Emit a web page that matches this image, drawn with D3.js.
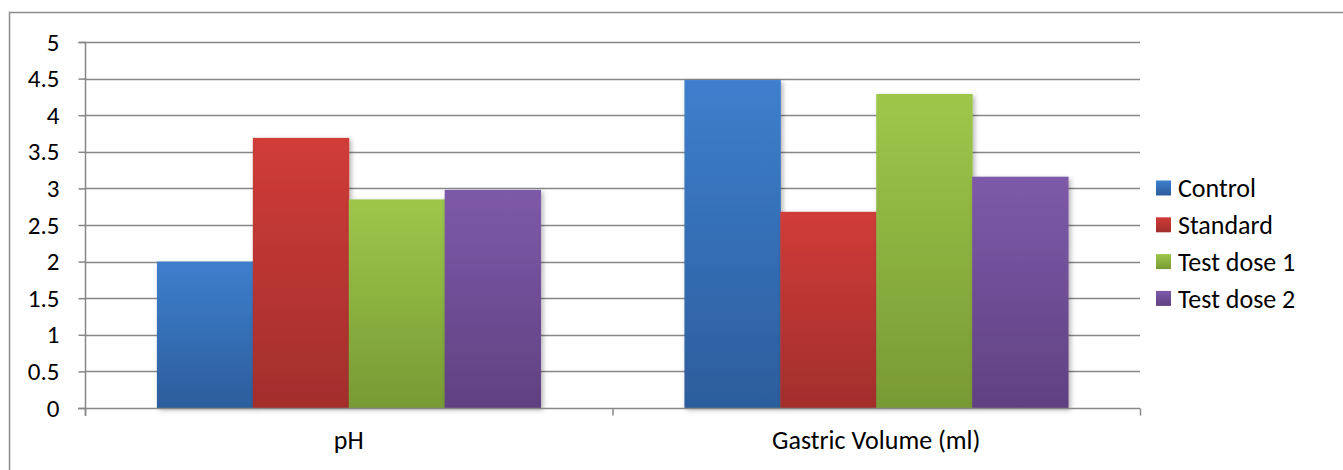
<!DOCTYPE html>
<html><head><meta charset="utf-8">
<script src="https://cdn.jsdelivr.net/npm/d3@7"></script>
<style>html,body{margin:0;padding:0;background:#fff;}svg{display:block;}</style>
</head><body>
<svg id="c" width="1343" height="470"></svg>
<script>
const categories = ["pH", "Gastric Volume (ml)"];
const seriesNames = ["Control", "Standard", "Test dose 1", "Test dose 2"];
const control = [2.0, 4.48];
const standard = [3.69, 2.68];
const testDose1 = [2.85, 4.29];
const testDose2 = [2.98, 3.16];
const yTicks = [0, 0.5, 1, 1.5, 2, 2.5, 3, 3.5, 4, 4.5, 5];
const seriesValues = [control, standard, testDose1, testDose2];
const colorsTop = ["#3d7fcd", "#d03c38", "#9ec74a", "#7d5aa9"];
const colorsBot = ["#2c5d9c", "#a22e2c", "#789a34", "#604181"];

const svg = d3.select("#c");
const font = "Carlito, Calibri, 'Open Sans', sans-serif";
const m = {left: 85, right: 1140, top: 42, bottom: 408};

// outer border
svg.append("path").attr("d", "M9.5,475 L9.5,12.5 L1350,12.5")
  .attr("fill", "none").attr("stroke", "#8c8c8c").attr("stroke-width", 1.5);

const defs = svg.append("defs");
colorsTop.forEach((c, i) => {
  const g = defs.append("linearGradient").attr("id", "g" + i)
    .attr("x1", 0).attr("y1", 0).attr("x2", 0).attr("y2", 1);
  g.append("stop").attr("offset", "0%").attr("stop-color", c);
  g.append("stop").attr("offset", "100%").attr("stop-color", colorsBot[i]);
});
const f = defs.append("filter").attr("id", "sh").attr("x", "-10%").attr("y", "-10%").attr("width", "130%").attr("height", "130%");
f.append("feDropShadow").attr("dx", 2).attr("dy", 2).attr("stdDeviation", 2.5).attr("flood-color", "#000").attr("flood-opacity", 0.3);

const y = d3.scaleLinear().domain([0, 5]).range([m.bottom, m.top]);
const x0 = d3.scaleBand().domain(categories).range([m.left, m.right]).paddingInner(0).paddingOuter(0);
const x1 = d3.scaleBand().domain(seriesNames).range([0, x0.bandwidth()]).paddingOuter(0.75).paddingInner(0);

// gridlines
svg.append("g").selectAll("line").data(yTicks.filter(d => d > 0)).join("line")
  .attr("x1", m.left).attr("x2", m.right)
  .attr("y1", d => Math.round(y(d)) + 0.5).attr("y2", d => Math.round(y(d)) + 0.5)
  .attr("stroke", "#878787").attr("stroke-width", 1.5);

// bars
categories.forEach((cat, ci) => {
  seriesNames.forEach((s, si) => {
    const v = seriesValues[si][ci];
    svg.append("rect")
      .attr("x", x0(cat) + x1(s)).attr("width", x1.bandwidth() + 0.5)
      .attr("y", y(v)).attr("height", y(0) - y(v))
      .attr("fill", `url(#g${si})`).attr("filter", "url(#sh)");
  });
});

// y axis
const yAxis = d3.axisLeft(y).tickValues(yTicks).tickSize(7).tickPadding(19).tickFormat(d => d3.format("")(d));
const ya = svg.append("g").attr("transform", `translate(${m.left + 0.5},0)`).call(yAxis);
ya.select(".domain").attr("stroke", "#878787").attr("stroke-width", 1.5).attr("d", `M-7,${m.top + 0.5}H0V${m.bottom + 8}`);
ya.selectAll(".tick line").attr("stroke", "#878787").attr("stroke-width", 1.5);
ya.selectAll(".tick text").attr("font-family", font).attr("font-size", 25).attr("fill", "#000");

// x axis
const xa = svg.append("g").attr("transform", `translate(0,${m.bottom + 0.5})`);
xa.append("line").attr("x1", m.left - 7).attr("x2", m.right).attr("stroke", "#878787").attr("stroke-width", 1.5);
[m.left, (m.left + m.right) / 2, m.right].forEach(t => {
  xa.append("line").attr("x1", t + 0.5).attr("x2", t + 0.5).attr("y1", 0).attr("y2", 7).attr("stroke", "#878787").attr("stroke-width", 1.5);
});
categories.forEach(cat => {
  xa.append("text").attr("x", x0(cat) + x0.bandwidth() / 2).attr("y", 40)
    .attr("text-anchor", "middle").attr("font-family", font).attr("font-size", 26).attr("fill", "#000").text(cat);
});

// legend
const lg = svg.append("g");
seriesNames.forEach((s, i) => {
  const cy = 188 + i * 36.8;
  lg.append("rect").attr("x", 1156).attr("y", cy - 7.5).attr("width", 15).attr("height", 15).attr("fill", `url(#g${i})`);
  lg.append("text").attr("x", 1178).attr("y", cy).attr("dy", "0.35em")
    .attr("font-family", font).attr("font-size", 26).attr("fill", "#000").text(s);
});
</script>
</body></html>
